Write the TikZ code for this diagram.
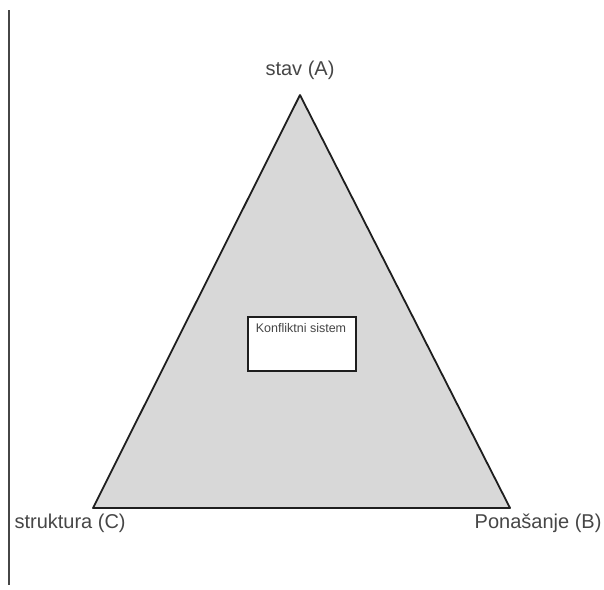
\documentclass[tikz,border=0pt]{standalone}
\usepackage{fontspec}
\setmainfont{Liberation Sans}
\begin{document}
\begin{tikzpicture}[x=1pt,y=-1pt]
	% Define custom colors
	\definecolor{trianglefill}{RGB}{216, 216, 216}
	\definecolor{edgecolor}{RGB}{30, 30, 30}
	\definecolor{labelcolor}{RGB}{70, 70, 70}
	\useasboundingbox (0, 0) rectangle (604, 589);
	\coordinate (A) at (300, 95);
	\coordinate (B) at (510, 508);
	\coordinate (C) at (93, 508);
	\coordinate (top) at (9, 10);
	\coordinate (bottom) at (9, 585);
	\fill[trianglefill] (A) -- (B) -- (C) -- cycle;
	\draw[edgecolor, line width=1.8pt, line join=round] (A) -- (B) -- (C) -- cycle;
	\draw[labelcolor, line width=1.8pt] (top) -- (bottom);
	\node[draw=edgecolor, line width=1.8pt, fill=white, minimum width=108pt, minimum height=54pt] (box) at (302, 344) {};
	\node[font=\fontsize{12.5}{14}\selectfont, text=labelcolor, anchor=north] (system) at (301, 320) {Konfliktni sistem};
	\node[font=\fontsize{20}{24}\selectfont, text=labelcolor] (stav) at (300, 70) {stav (A)};
	\node[font=\fontsize{20}{24}\selectfont, text=labelcolor, anchor=west] (struct) at (11, 523) {struktura (C)};
	\node[font=\fontsize{20}{24}\selectfont, text=labelcolor, anchor=east] (beh) at (605, 523) {Ponašanje (B)};
\end{tikzpicture}
\end{document}
